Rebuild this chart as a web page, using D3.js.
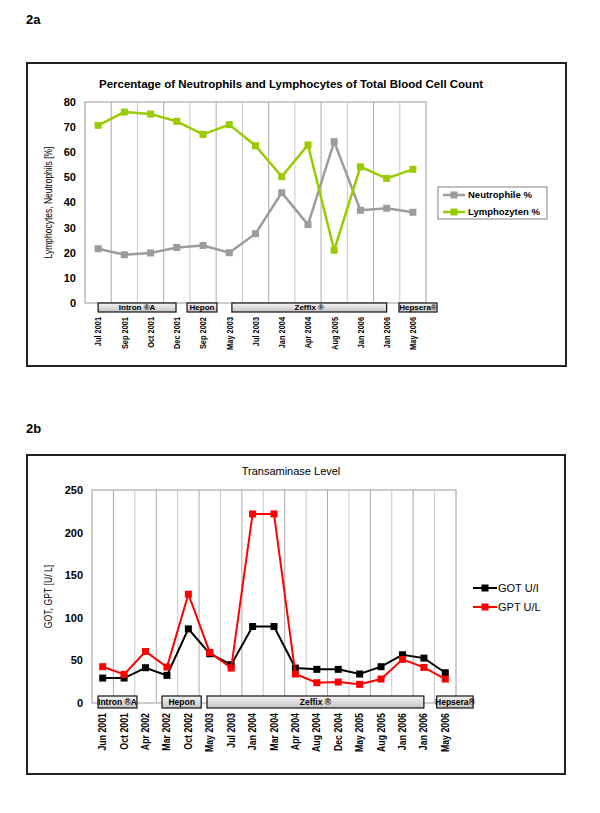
<!DOCTYPE html>
<html>
  <head>
    <meta charset="utf-8">
    <script src="https://d3js.org/d3.v7.min.js"></script>
    <style>
      body { margin: 0; background: #fff; }
      text { font-family: "Liberation Sans", Arial, sans-serif; fill: #000; }
    </style>
  </head>
  <body>
    <script type="text/javascript">
      // ---- data for 2a ----
      var months2a = ["Jul 2001", "Sep 2001", "Oct 2001", "Dec 2001", "Sep 2002", "May 2003",
                      "Jul 2003", "Jan 2004", "Apr 2004", "Aug 2005", "Jan 2006", "Jan 2006", "May 2006"];
      var neutrophils = [21.6, 19.2, 19.9, 22.1, 22.9, 20, 27.6, 43.9, 31.2, 64.2, 36.9, 37.7, 36.1];
      var lymphocytes = [70.7, 76, 75.2, 72.3, 67.1, 71, 62.6, 50.3, 62.9, 21, 54.2, 49.6, 53.2];
      var ticks2a = [0, 10, 20, 30, 40, 50, 60, 70, 80];
      // therapy periods, in category index units
      var therapy2a = [
        {name: "Intron ®A", from: 0, to: 2.97},
        {name: "Hepon", from: 3.39, to: 4.53},
        {name: "Zeffix ®", from: 5.1, to: 11.0},
        {name: "Hepsera®", from: 11.47, to: 12.92}
      ];

      // ---- data for 2b ----
      var months2b = ["Jun 2001", "Oct 2001", "Apr 2002", "Mar 2002", "Oct 2002", "May 2003", "Jul 2003",
                      "Jan 2004", "Mar 2004", "Apr 2004", "Aug 2004", "Dec 2004", "May 2005", "Aug 2005",
                      "Jan 2006", "Jan 2006", "May 2006"];
      var got = [29.3, 29.3, 41.4, 32.4, 87, 57.8, 45, 89.8, 89.8, 41, 39.5, 39.5, 34, 42.6, 56.6, 52.7, 35.5];
      var gpt = [42.6, 33.6, 60.5, 42.2, 127.7, 59.4, 41, 221.9, 221.9, 34, 23.8, 24.6, 21.9, 28.1, 51.2, 41.8, 28.1];
      var ticks2b = [0, 50, 100, 150, 200, 250];
      var therapy2b = [
        {name: "Intron ®A", from: -0.22, to: 1.6},
        {name: "Hepon", from: 2.77, to: 4.6},
        {name: "Zeffix ®", from: 4.87, to: 15.0},
        {name: "Hepsera®", from: 15.6, to: 17.3}
      ];

      var svg = d3.select("body").append("svg")
          .attr("width", 600)
          .attr("height", 813);

      var defs = svg.append("defs");
      var grad = defs.append("linearGradient")
          .attr("id", "barGrad")
          .attr("x1", 0).attr("y1", 0).attr("x2", 0).attr("y2", 1);
      grad.append("stop").attr("offset", "0%").attr("stop-color", "#f4f4f4");
      grad.append("stop").attr("offset", "100%").attr("stop-color", "#c4c4c4");

      function drawChart(c) {
        var g = svg.append("g");

        // panel label and outer frame
        g.append("text")
            .attr("x", c.label[0]).attr("y", c.label[1])
            .style("font-size", "13px").style("font-weight", "bold")
            .text(c.labelText);
        g.append("rect")
            .attr("x", c.box[0]).attr("y", c.box[1])
            .attr("width", c.box[2] - c.box[0]).attr("height", c.box[3] - c.box[1])
            .attr("fill", "#fff").attr("stroke", "#222").attr("stroke-width", 2);

        var n = c.cats.length;
        var x = d3.scaleBand().domain(d3.range(n)).range([c.plot[0], c.plot[2]]);
        var xi = d3.scaleLinear().domain([-0.5, n - 0.5]).range([c.plot[0], c.plot[2]]);
        var y = d3.scaleLinear().domain([0, c.ymax]).range([c.plot[3], c.plot[1]]);
        var cx = function (i) { return x(i) + x.bandwidth() / 2; };

        // plot area + vertical grid lines
        g.append("rect")
            .attr("x", c.plot[0]).attr("y", c.plot[1])
            .attr("width", c.plot[2] - c.plot[0]).attr("height", c.plot[3] - c.plot[1])
            .attr("fill", "#fff").attr("stroke", "#9a9a9a");
        g.selectAll(".grid").data(d3.range(1, n)).enter().append("line")
            .attr("x1", function (d) { return x(d); }).attr("x2", function (d) { return x(d); })
            .attr("y1", c.plot[1]).attr("y2", c.plot[3])
            .attr("stroke", function (d) { return d % 2 ? "#aaa" : "#c8c8c8"; })
            .attr("stroke-width", 1);

        // y tick labels
        g.selectAll(".ytick").data(c.ticks).enter().append("text")
            .attr("x", c.ytickX).attr("y", function (d) { return y(d); })
            .attr("dy", "0.36em")
            .attr("text-anchor", "end")
            .style("font-size", "11px").style("font-weight", "bold")
            .text(function (d) { return d; });

        // y axis title
        g.append("text")
            .attr("transform", "translate(" + c.ytitleX + "," + ((c.plot[1] + c.plot[3]) / 2) + ") rotate(-90) scale(" + c.ytitleScale + ",1)")
            .attr("text-anchor", "middle")
            .style("font-size", "10px")
            .text(c.ytitle);

        // chart title
        g.append("text")
            .attr("x", c.title[0]).attr("y", c.title[1])
            .attr("text-anchor", "middle")
            .style("font-size", c.titleSize).style("font-weight", c.titleWeight)
            .text(c.titleText);

        // x labels (rotated)
        g.selectAll(".xlab").data(c.cats).enter().append("text")
            .attr("transform", function (d, i) {
              return "translate(" + cx(i) + "," + c.xlabY + ") rotate(-90) scale(" + c.xlabScale + ",1)";
            })
            .attr("text-anchor", "end")
            .attr("dy", "0.35em")
            .style("font-size", c.xlabSize).style("font-weight", "bold")
            .text(function (d) { return d; });

        // lines and markers
        var line = d3.line()
            .x(function (d, i) { return cx(i); })
            .y(function (d) { return y(d); });
        c.series.forEach(function (s) {
          g.append("path").datum(s.values)
              .attr("d", line)
              .attr("fill", "none")
              .attr("stroke", s.color)
              .attr("stroke-width", c.lineWidth);
          g.selectAll(null).data(s.values).enter().append("rect")
              .attr("x", function (d, i) { return cx(i) - 3.5; })
              .attr("y", function (d) { return y(d) - 3.5; })
              .attr("width", 7).attr("height", 7)
              .attr("fill", s.color);
        });

        // therapy bars
        var tb = g.selectAll(".therapy").data(c.therapy).enter().append("g");
        tb.append("rect")
            .attr("x", function (d) { return xi(d.from); })
            .attr("y", c.barY[0])
            .attr("width", function (d) { return xi(d.to) - xi(d.from); })
            .attr("height", c.barY[1] - c.barY[0])
            .attr("fill", "url(#barGrad)")
            .attr("stroke", "#111").attr("stroke-width", 1.2);
        tb.append("text")
            .attr("x", function (d) { return (xi(d.from) + xi(d.to)) / 2; })
            .attr("y", (c.barY[0] + c.barY[1]) / 2)
            .attr("dy", "0.36em")
            .attr("text-anchor", "middle")
            .style("font-size", c.barTextSize).style("font-weight", "bold")
            .text(function (d) { return d.name; });

        // legend
        if (c.legendBox) {
          g.append("rect")
              .attr("x", c.legendBox[0]).attr("y", c.legendBox[1])
              .attr("width", c.legendBox[2] - c.legendBox[0]).attr("height", c.legendBox[3] - c.legendBox[1])
              .attr("fill", "#fff").attr("stroke", "#808080");
        }
        var lg = g.selectAll(".leg").data(c.series).enter().append("g")
            .attr("transform", function (d, i) { return "translate(0," + c.legendY[i] + ")"; });
        lg.append("line")
            .attr("x1", c.legendX[0]).attr("x2", c.legendX[1])
            .attr("stroke", function (d) { return d.color; })
            .attr("stroke-width", c.lineWidth);
        lg.append("rect")
            .attr("x", (c.legendX[0] + c.legendX[1]) / 2 - 3.5).attr("y", -3.5)
            .attr("width", 7).attr("height", 7)
            .attr("fill", function (d) { return d.color; });
        lg.append("text")
            .attr("x", c.legendX[2])
            .attr("dy", "0.36em")
            .style("font-size", c.legendSize).style("font-weight", c.legendWeight)
            .text(function (d) { return d.name; });
      }

      drawChart({
        labelText: "2a", label: [26, 24],
        box: [27, 63, 566, 366],
        plot: [85, 102, 426, 303],
        cats: months2a, ymax: 80, ticks: ticks2a,
        ytickX: 76, ytitleX: 52, ytitleScale: 0.85,
        ytitle: "Lymphocytes, Neutrophils [%]",
        titleText: "Percentage of Neutrophils and Lymphocytes of Total Blood Cell Count",
        title: [291, 88], titleSize: "11.5px", titleWeight: "bold",
        xlabY: 317, xlabScale: 0.78, xlabSize: "9.5px",
        lineWidth: 2.5,
        series: [
          {name: "Neutrophile %", values: neutrophils, color: "#9c9c9c"},
          {name: "Lymphozyten %", values: lymphocytes, color: "#99cc00"}
        ],
        therapy: therapy2a, barY: [303, 312], barTextSize: "8px",
        legendBox: [438, 187, 547, 219], legendY: [195, 212], legendX: [443, 465, 468],
        legendSize: "9.5px", legendWeight: "bold"
      });

      drawChart({
        labelText: "2b", label: [26, 433],
        box: [27, 455, 565, 774],
        plot: [92, 490, 456, 703],
        cats: months2b, ymax: 250, ticks: ticks2b,
        ytickX: 83, ytitleX: 52, ytitleScale: 0.87,
        ytitle: "GOT, GPT [U/ L]",
        titleText: "Transaminase Level",
        title: [291, 475], titleSize: "11px", titleWeight: "normal",
        xlabY: 713, xlabScale: 0.88, xlabSize: "10px",
        lineWidth: 2,
        series: [
          {name: "GOT U/I", values: got, color: "#000000"},
          {name: "GPT U/L", values: gpt, color: "#ff0000"}
        ],
        therapy: therapy2b, barY: [696, 708], barTextSize: "8.5px",
        legendBox: null, legendY: [588, 607], legendX: [473, 497, 498],
        legendSize: "11px", legendWeight: "normal"
      });
    </script>
  </body>
</html>
